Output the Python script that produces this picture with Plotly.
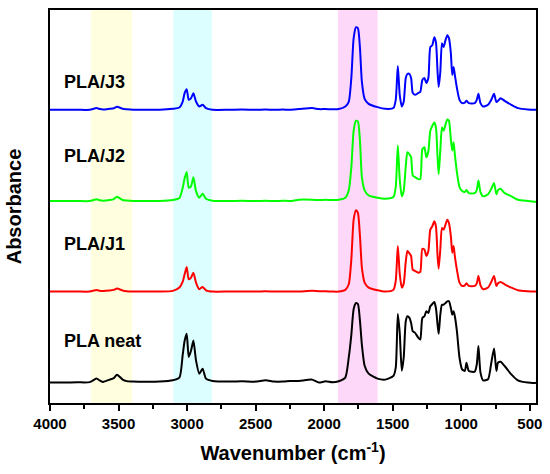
import plotly.graph_objects as go

# wavenumber grid (cm-1), shared by all spectra
wavenumber = [4000, 3900, 3800, 3710, 3661, 3635, 3613, 3565, 3535, 3511, 3470, 3440, 3395, 3300, 3200,
              3104, 3056, 3032, 3018, 3003, 2988, 2971, 2954, 2935, 2911, 2887, 2862, 2814, 2700, 2600,
              2500, 2427, 2366, 2300, 2250,
              2184, 2088, 2039, 1991, 1940, 1894, 1846, 1821, 1802, 1785, 1768, 1754, 1739, 1725, 1705,
              1676, 1611, 1555, 1495, 1478, 1463, 1449, 1434, 1420, 1405, 1393, 1378, 1366, 1354, 1337,
              1313, 1299, 1284, 1269, 1255, 1240, 1226, 1211, 1197, 1185, 1173, 1165, 1153, 1141, 1129,
              1115, 1102, 1090, 1076, 1066, 1056, 1047, 1032, 1013, 994, 974, 962, 945, 902, 887,
              875, 860, 841, 805, 781, 761, 744, 732, 713, 684, 635, 587, 514, 466, 455]

# absorbance above each baseline (a.u.)
pla_neat = [0, 0, 0.3, 0.5, 4, 2, 0.7, 3, 4.5, 8, 3, 1.5, 1, 0.8, 1,
            2.3, 5, 28, 42, 49, 25.7, 32.3, 42.3, 22.3, 9, 14, 4, 1.7, 1, 1.3,
            1, 2.3, 1, 1, 1.5,
            1.7, 3, 0, 1.3, 0.3, 1.3, 5, 25, 48, 74, 80, 79, 62, 38, 17,
            9, 4, 3, 6.7, 15, 69, 50, 12, 25, 61.7, 66.7, 65, 60, 51.7, 50,
            45, 43.3, 65, 66.7, 71.7, 70, 76.7, 79, 81, 75, 58.3, 49, 68.3, 78.3, 78.3,
            80, 81.7, 81.7, 75, 68.3, 71.7, 66.7, 51.7, 25, 13.3, 11.7, 20, 11.7, 11, 18.3,
            36.7, 10, 2.3, 3.3, 20, 34.3, 11.7, 20, 21, 16.7, 8.3, 2.3, 0, -0.3, 0]

pla_j1 = [0, 0, 0, 0, 1.7, 0.7, 0.5, 1, 1.7, 3, 1, 0.3, 0, 0, 0,
          0.7, 4, 10, 17.3, 24.7, 12.3, 14, 19, 9, 2.3, 4.7, 1.3, 0, 0, 0,
          0, 0.3, 0, 0, 0,
          0, 0.7, 0.3, 0.3, 0, 0, 1.7, 7.3, 32.3, 72.3, 81.7, 79, 55.7, 24, 9,
          4, 1.3, 0, 1.7, 10.7, 45.7, 18, 4, 8, 30, 40.7, 38.3, 35.7, 22, 20.7,
          19, 19.7, 43, 42.3, 35.7, 40.7, 62.3, 65.7, 70.7, 65.7, 35.7, 23, 42.3, 64, 62.3,
          67.3, 72.3, 69, 55.7, 39, 45.7, 35.7, 22, 9, 5.7, 6.3, 8.3, 5.7, 5.7, 8.3,
          15.7, 6.3, 2.3, 4, 9.7, 15.7, 5.7, 8.3, 9.7, 7.3, 4, 1.3, 0.3, 0, 0]

pla_j2 = [0, 0, 0, 0, 1.7, 0.7, 0.3, 1, 2, 4.3, 1, 0.5, 0, 0, 0,
          1, 3, 13.3, 23, 29.3, 13.3, 15, 24, 10, 3.3, 7.3, 2.3, 0.3, 0, 0.3,
          0, 0.3, 0, 0.3, 0,
          1.3, 1.3, 1, 1.3, 1, 1.3, 3.3, 10.7, 34, 70.7, 80.7, 80, 60.7, 24, 10.7,
          5.7, 3.3, 2.3, 4, 14, 55.7, 22, 4.7, 10, 35, 49, 47, 44, 25.7, 24,
          22, 22, 52, 54, 44, 50, 70.7, 75.7, 79, 74, 44, 27, 50.7, 74, 70.7,
          77, 82, 80.7, 62, 50.7, 59, 47, 29, 14, 10, 9, 11, 8, 8, 11,
          20.7, 9, 4.7, 6.7, 12.3, 18, 6.7, 11, 12.3, 8, 4.7, 1.3, 0, -0.7, -0.7]

pla_j3 = [0, 0, 0, 0, 1.7, 0.7, 0.3, 1, 1.5, 3, 1, 0.5, 0, 0, 0,
          1, 2.3, 8.3, 16.7, 20.7, 10, 11.7, 16.7, 8.3, 3.3, 5, 1.7, 0, 0, 0.3,
          0, 0.3, 0, 0.3, 0,
          0.7, 1.7, 0.7, 0.7, 0.5, 0.7, 3.3, 8, 32, 72, 83, 82, 62, 28, 11,
          6, 2.7, 1, 1.7, 10, 44, 15, 3.3, 8, 32, 36, 36, 32, 17, 15,
          17, 18, 30, 32, 27, 32, 63, 65, 73, 68, 38, 23, 38, 67, 63,
          70, 75, 72, 57, 35, 43, 35, 22, 10, 6.7, 7.3, 9, 6.7, 6.7, 10,
          16, 6.7, 3.3, 5, 10, 16, 7.7, 9, 11.7, 9, 5, 1.7, 0.3, 0, 0]

names = ["PLA neat", "PLA/J1", "PLA/J2", "PLA/J3"]
spectra = [pla_neat, pla_j1, pla_j2, pla_j3]
offsets = [20.5, 112, 203, 294.7]
colors = ["#000000", "#FF0000", "#00FF00", "#0000FF"]
label_y = [62.5, 160, 248, 323]

# shaded bands (start, end, colour)
bands = [(3700, 3400, "#FFFFE0"), (3100, 2820, "#DCFEFE"), (1900, 1610, "#FDD8F8")]

fig = go.Figure()
for name, vals, off, col in zip(names, spectra, offsets, colors):
    fig.add_trace(go.Scatter(x=wavenumber, y=[v + off for v in vals], mode="lines", name=name,
                             line=dict(color=col, width=2, shape="spline", smoothing=0.6)))

for x0, x1, c in bands:
    fig.add_shape(type="rect", xref="x", yref="paper", x0=x0, x1=x1, y0=0, y1=1,
                  fillcolor=c, line_width=0, layer="below")

for name, y in zip(names, label_y):
    fig.add_annotation(x=3915, y=y, text="<b>%s</b>" % name, showarrow=False, xanchor="left",
                       yanchor="middle", font=dict(size=18, color="black"))

fig.update_layout(
    width=550, height=474,
    margin=dict(l=50, r=12, t=8, b=71),
    plot_bgcolor="white", paper_bgcolor="white",
    showlegend=False,
    font=dict(family="Liberation Sans, Arial, sans-serif", color="black"),
)
fig.update_xaxes(range=[4000, 455], tickvals=[4000, 3500, 3000, 2500, 2000, 1500, 1000, 500],
                 ticks="outside", ticklen=6, tickwidth=2, tickcolor="black",
                 minor=dict(dtick=250, ticks="outside", ticklen=4, tickwidth=2, tickcolor="black"),
                 tickfont=dict(size=15, weight="bold"), showgrid=False, zeroline=False,
                 showline=True, linewidth=2, linecolor="black", mirror=True,
                 title=dict(text="<b>Wavenumber (cm<sup>-1</sup>)</b>", font=dict(size=20), standoff=15))
fig.update_yaxes(range=[0, 395], showticklabels=False, ticks="", showgrid=False, zeroline=False,
                 showline=True, linewidth=2, linecolor="black", mirror=True,
                 title=dict(text="<b>Absorbance</b>", font=dict(size=20), standoff=21))

# drop the default page margin so the figure sits at the window corner
fig.write_html("out.html", config={"displayModeBar": False},
               post_script="document.body.style.margin='0';")
